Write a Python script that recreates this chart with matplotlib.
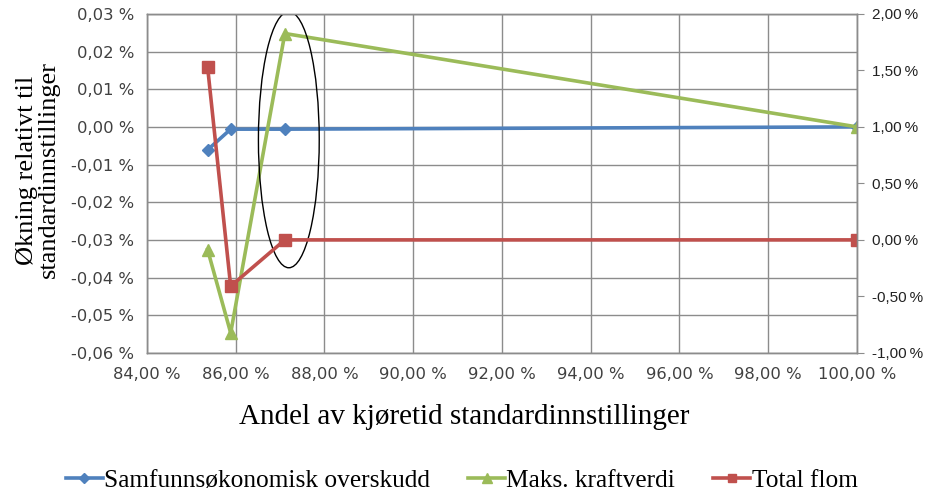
import matplotlib.pyplot as plt
from matplotlib.patches import Ellipse
from matplotlib.ticker import FuncFormatter

# andel av kjøretid med standardinnstillinger (%)
andel = [85.37, 85.89, 87.11, 100.0]

# venstre akse (%)
samfunn = [-0.0061, -0.0006, -0.0006, 0.0]
kraftverdi = [-0.0326, -0.0547, 0.0248, 0.0]
# høyre akse (%)
flom = [1.53, -0.41, 0.0, 0.0]

blue = "#4F81BD"
green = "#9BBB59"
red = "#C0504D"
grid_col = "#8C8C8C"

fig = plt.figure(figsize=(9.29, 4.97), dpi=100)
ax = fig.add_axes([0.158, 0.29, 0.7645, 0.682])
ax2 = ax.twinx()

def pct(dec, sep=" "):
    return FuncFormatter(lambda v, p: f"{v:.{dec}f}{sep}%".replace(".", ",").replace("-0,00", "0,00"))

l1, = ax.plot(andel, samfunn, color=blue, lw=2.6, marker="D", ms=6, label="Samfunnsøkonomisk overskudd")
l2, = ax.plot(andel, kraftverdi, color=green, lw=2.6, marker="^", ms=9, label="Maks. kraftverdi")
l3, = ax2.plot(andel, flom, color=red, lw=2.6, marker="s", ms=8, label="Total flom")

ax.set_xlim(84, 100)
ax.set_ylim(-0.06, 0.03)
ax2.set_ylim(-1.0, 2.0)
ax.set_xticks(range(84, 101, 2))
ax.set_yticks([i / 100 for i in range(-6, 4)])
ax2.set_yticks([-1.0, -0.5, 0.0, 0.5, 1.0, 1.5, 2.0])
ax.xaxis.set_major_formatter(pct(2))
ax.yaxis.set_major_formatter(pct(2))
ax2.yaxis.set_major_formatter(pct(2, "\u2009"))

ax.grid(True, color=grid_col, lw=1.0)
ax.set_axisbelow(True)
for a in (ax, ax2):
    for s in a.spines.values():
        s.set_color(grid_col)
        s.set_linewidth(1.0)
ax.tick_params(axis="y", length=0, labelsize=11.8, colors="#404040", pad=9)
ax.tick_params(axis="x", length=0, labelsize=11.8, colors="#404040", pad=10)
ax2.tick_params(axis="y", length=5, color=grid_col, labelsize=11, colors="#222222", pad=6)
for t in ax2.get_yticklabels():
    t.set_family("Liberation Sans")

# markering rundt punktet ved 87 %
ax.add_patch(Ellipse((87.2, -0.0034), 1.37, 0.068, fill=False, ec="black", lw=1.0, zorder=5))

fig.text(0.041, 0.658, "Økning relativt til\nstandardinnstillinger", family="Liberation Serif",
         fontsize=19, linespacing=1.0, rotation=90, ha="center", va="center")
fig.text(0.5, 0.161, "Andel av kjøretid standardinnstillinger", family="Liberation Serif",
         fontsize=21, ha="center", va="center")

fig.legend(handles=[l1, l2, l3], loc="center", bbox_to_anchor=(0.497, 0.033), ncol=3,
           frameon=False, prop={"family": "Liberation Serif", "size": 18.3},
           handlelength=1.45, handletextpad=0.05, columnspacing=1.5, markerscale=0.8,
           borderaxespad=0, borderpad=0)

fig.savefig("out.png", dpi=100)
